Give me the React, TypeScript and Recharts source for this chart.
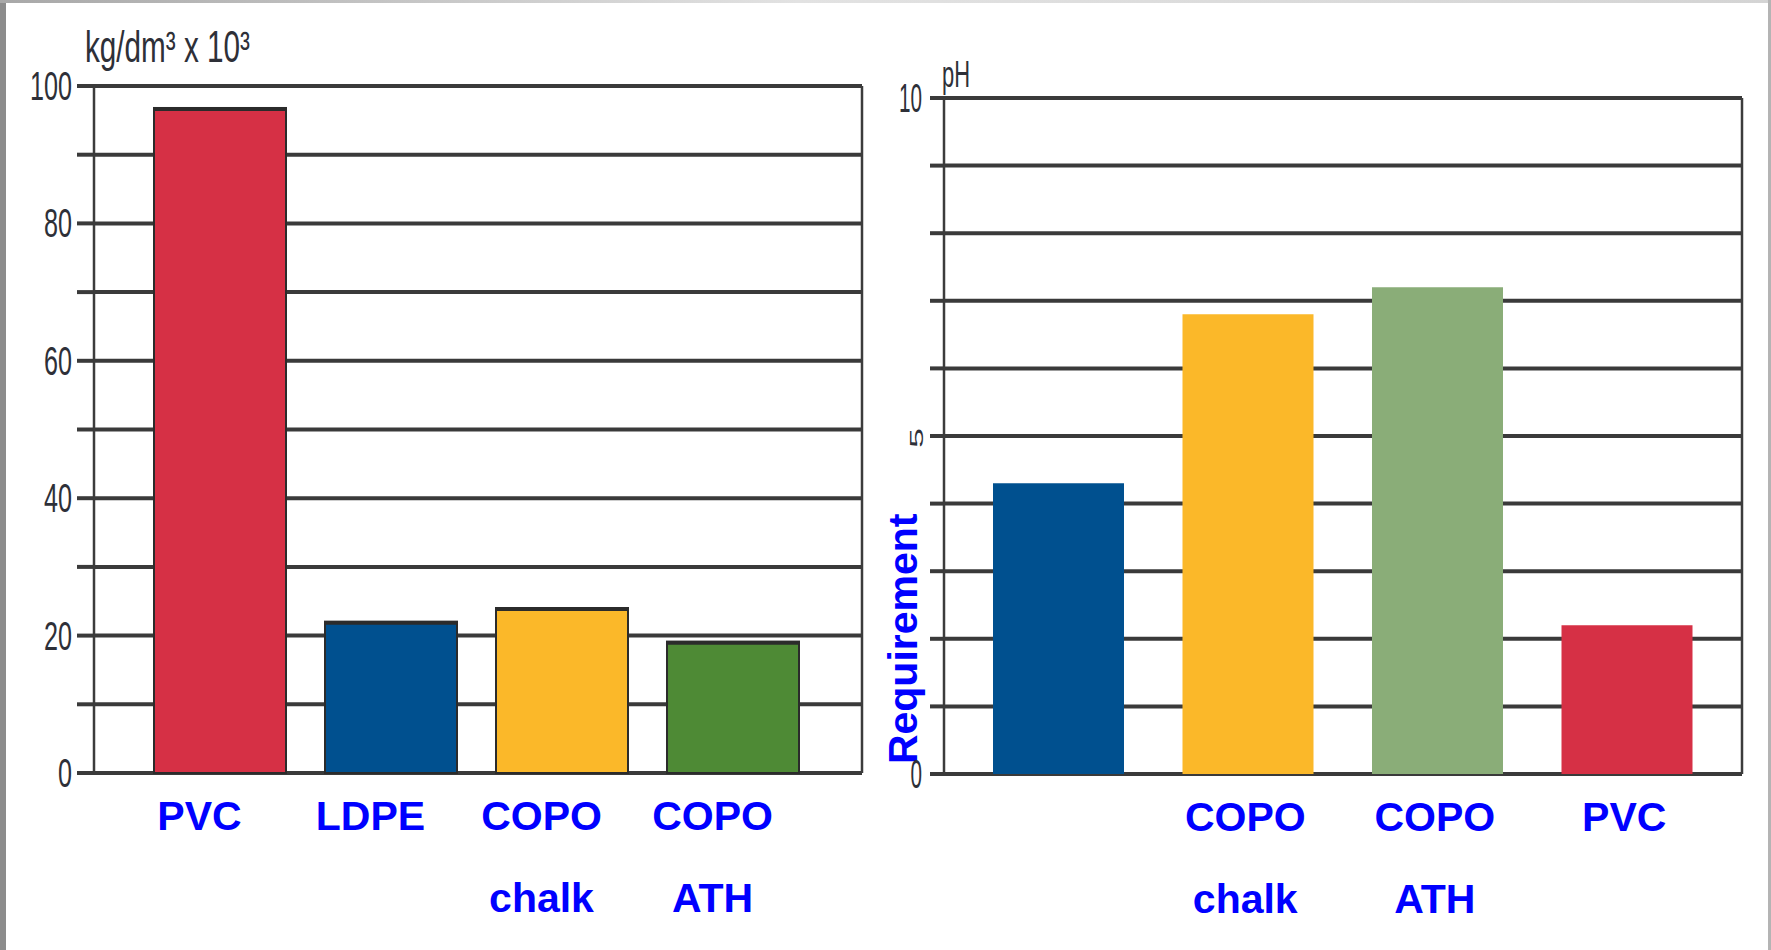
import {Bar, BarChart, CartesianGrid, Cell, XAxis, YAxis} from 'recharts';

// left panel: density
const densityCategories = ['PVC', 'LDPE', 'COPO\nchalk', 'COPO\nATH'];
const densityValues = [96.8, 22, 24, 19.1];
const densityColors = ['#D63045', '#00508F', '#FBB829', '#4E8A35'];
const densityTicks = [0, 10, 20, 30, 40, 50, 60, 70, 80, 90, 100];
const densityTickLabels = [0, 20, 40, 60, 80, 100];

// right panel: pH
const phCategories = ['', 'COPO\nchalk', 'COPO\nATH', 'PVC'];
const phValues = [4.3, 6.8, 7.2, 2.2];
const phColors = ['#00508F', '#FBB829', '#8AAD78', '#D63045'];
const phTicks = [0, 1, 2, 3, 4, 5, 6, 7, 8, 9, 10];
const phTickLabels = [0, 5, 10];
const phRotatedLabels = [5];

const densityData = densityCategories.map((name, i) => ({name, value: densityValues[i]}));
const phData = phCategories.map((name, i) => ({name, value: phValues[i]}));

const GRID = '#3a3a3a';
const AXIS = '#3c3c3c';
const LABEL_BLUE = '#0000FF';
const TICK_GRAY = '#2e3038';
const FONT = '"Liberation Sans", Arial, sans-serif';

// right-hand frame line of the plot area
const rightEdge = (props: any) => {
  const o = props?.offset;
  return o ? [o.left + o.width] : [];
};

function ValueTick({x = 0, y = 0, payload, shown, rotated = [], digitWidth}: any) {
  const v = payload?.value;
  if (v === undefined || !shown.includes(v)) return null;
  const s = String(v);
  if (rotated.includes(v)) {
    const cx = x + 1;
    return (
      <text
        x={cx}
        y={y + 2}
        transform={`rotate(-90 ${cx} ${y + 2})`}
        textAnchor="middle"
        fontSize={19}
        fill={TICK_GRAY}
        fontFamily={FONT}
        textLength={20}
        lengthAdjust="spacingAndGlyphs">
        {s}
      </text>
    );
  }
  return (
    <text
      x={x}
      y={y + 14}
      textAnchor="end"
      fontSize={40}
      fill={TICK_GRAY}
      fontFamily={FONT}
      textLength={digitWidth * s.length}
      lengthAdjust="spacingAndGlyphs">
      {s}
    </text>
  );
}

function CategoryTick({x = 0, y = 0, payload, shift}: any) {
  const lines = String(payload?.value ?? '').split('\n');
  return (
    <g>
      {lines.map((line, i) => (
        <text
          key={i}
          x={x + shift}
          y={y + 57 + i * 82}
          textAnchor="middle"
          fontSize={41}
          fontWeight="bold"
          fill={LABEL_BLUE}
          fontFamily={FONT}>
          {line}
        </text>
      ))}
    </g>
  );
}

function OutlinedBar(props: any) {
  const {x, y, width, height, fill} = props;
  return (
    <g>
      <rect x={x} y={y} width={width} height={height} fill={fill} stroke="#2b2b2b" strokeWidth={2} />
      <line x1={x - 1} x2={x + width + 1} y1={y + 1} y2={y + 1} stroke="#2b2b2b" strokeWidth={4} />
    </g>
  );
}

function DensityUnit({viewBox}: any) {
  return (
    <text
      x={viewBox.x + 85}
      y={viewBox.y - 24}
      fontSize={44}
      fill={TICK_GRAY}
      fontFamily={FONT}
      textLength={165}
      lengthAdjust="spacingAndGlyphs">
      kg/dm³ x 10³
    </text>
  );
}

function PhLabels({viewBox}: any) {
  const rx = viewBox.x + 37;
  const ry = viewBox.y + viewBox.height * 0.8;
  return (
    <g>
      <text
        x={viewBox.x + 62}
        y={viewBox.y - 11}
        fontSize={37}
        fill={TICK_GRAY}
        fontFamily={FONT}
        textLength={28}
        lengthAdjust="spacingAndGlyphs">
        pH
      </text>
      <text
        x={rx}
        y={ry}
        transform={`rotate(-90 ${rx} ${ry})`}
        textAnchor="middle"
        fontSize={41}
        fontWeight="bold"
        fill={LABEL_BLUE}
        fontFamily={FONT}>
        Requirement
      </text>
    </g>
  );
}

export default function App() {
  return (
    <div
      style={{
        position: 'absolute',
        left: 0,
        top: 0,
        width: 1771,
        height: 950,
        background: '#ffffff',
        overflow: 'hidden',
      }}>
      <div style={{position: 'absolute', left: 0, top: 0}}>
        <BarChart width={880} height={950} data={densityData} margin={{top: 86, right: 18, bottom: 0, left: 0}}>
          <CartesianGrid vertical={false} stroke={GRID} strokeWidth={4} />
          <CartesianGrid horizontal={false} stroke={AXIS} strokeWidth={2.5} verticalCoordinatesGenerator={rightEdge} />
          <XAxis
            dataKey="name"
            height={177}
            padding={{left: 40, right: 44}}
            axisLine={false}
            tickLine={false}
            tickSize={0}
            tickMargin={0}
            interval={0}
            tick={(p: any) => <CategoryTick {...p} shift={-20} />}
          />
          <YAxis
            width={94}
            domain={[0, 100]}
            ticks={densityTicks}
            interval={0}
            tickSize={17}
            tickMargin={5}
            axisLine={{stroke: AXIS, strokeWidth: 2.5}}
            tickLine={{stroke: GRID, strokeWidth: 4}}
            tick={(p: any) => <ValueTick {...p} shown={densityTickLabels} digitWidth={14} />}
            label={(p: any) => <DensityUnit {...p} />}
          />
          <Bar dataKey="value" barSize={132} isAnimationActive={false} shape={OutlinedBar}>
            {densityData.map((d, i) => (
              <Cell key={d.name} fill={densityColors[i]} />
            ))}
          </Bar>
        </BarChart>
      </div>

      <div style={{position: 'absolute', left: 880, top: 0}}>
        <BarChart width={891} height={950} data={phData} margin={{top: 98, right: 29, bottom: 0, left: 0}}>
          <CartesianGrid vertical={false} stroke={GRID} strokeWidth={4} />
          <CartesianGrid horizontal={false} stroke={AXIS} strokeWidth={2.5} verticalCoordinatesGenerator={rightEdge} />
          <XAxis
            dataKey="name"
            height={176}
            padding={{left: 20, right: 20}}
            axisLine={false}
            tickLine={false}
            tickSize={0}
            tickMargin={0}
            interval={0}
            tick={(p: any) => <CategoryTick {...p} shift={-3} />}
          />
          <YAxis
            width={64}
            domain={[0, 10]}
            ticks={phTicks}
            interval={0}
            tickSize={14}
            tickMargin={8}
            axisLine={{stroke: AXIS, strokeWidth: 2.5}}
            tickLine={{stroke: GRID, strokeWidth: 4}}
            tick={(p: any) => (
              <ValueTick {...p} shown={phTickLabels} rotated={phRotatedLabels} digitWidth={11.5} />
            )}
            label={(p: any) => <PhLabels {...p} />}
          />
          <Bar dataKey="value" barSize={131} isAnimationActive={false}>
            {phData.map((d, i) => (
              <Cell key={i} fill={phColors[i]} />
            ))}
          </Bar>
        </BarChart>
      </div>

      {/* slide frame */}
      <div style={{position: 'absolute', left: 0, top: 0, width: 6, height: 950, background: '#8c8c8c'}} />
      <div
        style={{
          position: 'absolute',
          left: 0,
          top: 0,
          width: 1771,
          height: 3,
          background: 'linear-gradient(to right, #a8a8a8, #e2e2e2 45%, #d4d4d4)',
        }}
      />
      <div style={{position: 'absolute', right: 0, top: 0, width: 3, height: 950, background: '#b4b4b4'}} />
    </div>
  );
}
